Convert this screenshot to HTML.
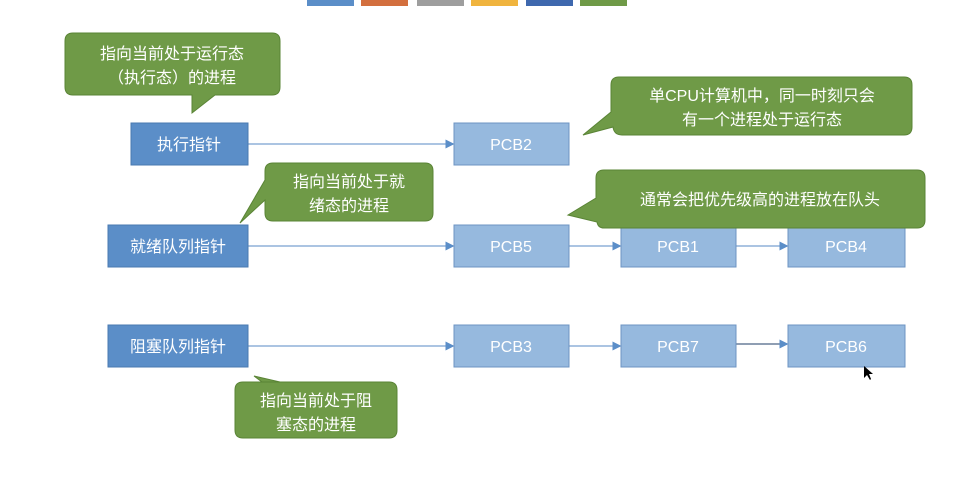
<!DOCTYPE html>
<html><head><meta charset="utf-8"><style>
body{margin:0;background:#fff;}
svg{display:block;font-family:"Liberation Sans","Noto Sans CJK SC",sans-serif;}
</style></head><body>
<svg width="959" height="493" viewBox="0 0 959 493">
<defs>
<marker id="a" markerWidth="6" markerHeight="6" refX="5" refY="3" orient="auto"><path d="M0,0 L6,3 L0,6z" fill="#5b8ec8"/></marker>
</defs>
<g>
<rect x="307" y="0" width="47" height="6" fill="#5b8ec8"/>
<rect x="361" y="0" width="47" height="6" fill="#d36f3e"/>
<rect x="417" y="0" width="47" height="6" fill="#9e9e9e"/>
<rect x="471" y="0" width="47" height="6" fill="#f0b43e"/>
<rect x="526" y="0" width="47" height="6" fill="#3e68ae"/>
<rect x="580" y="0" width="47" height="6" fill="#6f9a47"/>
</g>
<g stroke="#8fb0d8" stroke-width="1.5" marker-end="url(#a)">
<line x1="248" y1="144" x2="453" y2="144"/>
<line x1="248" y1="246" x2="453" y2="246"/>
<line x1="569" y1="246" x2="620" y2="246"/>
<line x1="736" y1="246" x2="787" y2="246"/>
<line x1="248" y1="346" x2="453" y2="346"/>
<line x1="569" y1="346" x2="620" y2="346"/>
<line x1="736" y1="344" x2="787" y2="344" stroke="#6a7f9a"/>
</g>
<g stroke="#4a7ab0" stroke-width="1">
<rect x="131" y="123" width="117" height="42" fill="#5b8ec8"/>
<rect x="108" y="225" width="140" height="42" fill="#5b8ec8"/>
<rect x="108" y="325" width="140" height="42" fill="#5b8ec8"/>
</g>
<g stroke="#6d94c3" stroke-width="1" fill="#96b9de">
<rect x="454" y="123" width="115" height="42"/>
<rect x="454" y="225" width="115" height="42"/>
<rect x="621" y="225" width="115" height="42"/>
<rect x="788" y="225" width="117" height="42"/>
<rect x="454" y="325" width="115" height="42"/>
<rect x="621" y="325" width="115" height="42"/>
<rect x="788" y="325" width="117" height="42"/>
</g>
<g fill="#fff" font-size="16" text-anchor="middle">
<text x="189" y="150">执行指针</text>
<text x="178" y="252">就绪队列指针</text>
<text x="178" y="352">阻塞队列指针</text>
<text x="511" y="150">PCB2</text>
<text x="511" y="252">PCB5</text>
<text x="678" y="252">PCB1</text>
<text x="846" y="252">PCB4</text>
<text x="511" y="352">PCB3</text>
<text x="678" y="352">PCB7</text>
<text x="846" y="352">PCB6</text>
</g>
<g fill="#6f9a47" stroke="#5a8436" stroke-width="1">
<path d="M73,33 H272 Q280,33 280,41 V87 Q280,95 272,95 H215 L192,113 L192,95 H73 Q65,95 65,87 V41 Q65,33 73,33z"/>
<path d="M619,77 H904 Q912,77 912,85 V127 Q912,135 904,135 H622 Q614,135 613,127 L583,135 L611,112 V85 Q611,77 619,77z"/>
<path d="M273,163 H425 Q433,163 433,171 V213 Q433,221 425,221 H273 Q265,221 265,213 V200 L240,223 L265,180 V171 Q265,163 273,163z"/>
<path d="M604,170 H917 Q925,170 925,178 V220 Q925,228 917,228 H604 Q598,228 597,222 L568,215 L596,198 V178 Q596,170 604,170z"/>
<path d="M243,382 H280 L254,376 L262,382 H389 Q397,382 397,390 V430 Q397,438 389,438 H243 Q235,438 235,430 V390 Q235,382 243,382z"/>
</g>
<g fill="#fff" font-size="16" text-anchor="middle">
<text x="172" y="59">指向当前处于运行态</text>
<text x="172" y="83">（执行态）的进程</text>
<text x="762" y="101">单CPU计算机中，同一时刻只会</text>
<text x="762" y="125">有一个进程处于运行态</text>
<text x="349" y="187">指向当前处于就</text>
<text x="349" y="211">绪态的进程</text>
<text x="760" y="205">通常会把优先级高的进程放在队头</text>
<text x="316" y="406">指向当前处于阻</text>
<text x="316" y="430">塞态的进程</text>
</g>
<path d="M864,366 L864,378 L867,375 L870,380 L871,379 L869,374 L873,374z" fill="#000"/>
</svg>
</body></html>
